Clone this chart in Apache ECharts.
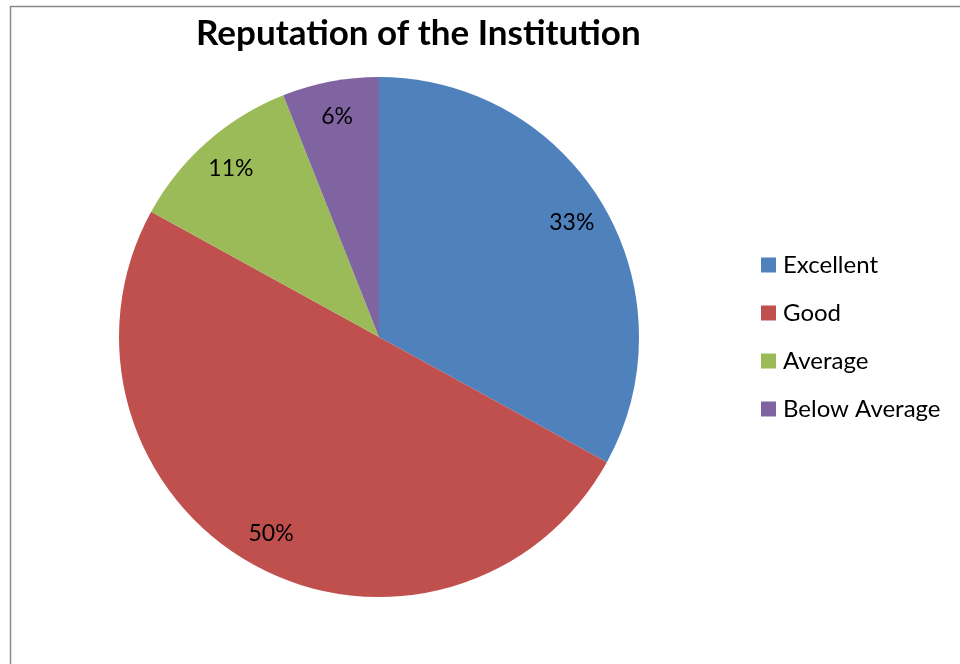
<!DOCTYPE html>
<html>
<head>
<meta charset="utf-8">
<script src="https://cdn.jsdelivr.net/npm/echarts@6/dist/echarts.min.js"></script>
<style>html,body{margin:0;padding:0;background:#fff}#c{width:960px;height:664px}</style>
</head>
<body>
<div id="c"></div>
<script>
const titleText = 'Reputation of the Institution';
const categories = ['Excellent', 'Good', 'Average', 'Below Average'];
const values = [33, 50, 11, 6];
const colors = ['#4F81BD', '#C0504D', '#9BBB59', '#8064A2'];

const font = 'Lato, "Open Sans", sans-serif';
const data = categories.map((n, i) => ({ name: n, value: values[i], itemStyle: { color: colors[i] } }));
const labelData = categories.map((n, i) => ({ name: n, value: values[i] }));

const chart = echarts.init(document.getElementById('c'), null, { renderer: 'canvas' });
chart.setOption({
  backgroundColor: '#ffffff',
  animation: false,
  title: {
    text: titleText,
    left: 196, top: 16,
    padding: 0,
    textStyle: { fontFamily: font, fontWeight: 'bold', fontSize: 35, color: '#000' }
  },
  graphic: [{
    type: 'rect', silent: true, z: -1,
    shape: { x: 10.5, y: 6.5, width: 1200, height: 1200 },
    style: { fill: 'none', stroke: '#898989', lineWidth: 1.5 }
  }],
  legend: {
    orient: 'vertical',
    left: 761, top: 253,
    padding: 0,
    itemWidth: 15, itemHeight: 15,
    itemGap: 24,
    icon: 'rect',
    selectedMode: false,
    data: categories.map((n, i) => ({ name: n, itemStyle: { color: colors[i] } })),
    textStyle: { fontFamily: font, fontSize: 24, lineHeight: 24, color: '#000', padding: [0, 0, 0, 2] }
  },
  series: [
    {
      type: 'pie',
      center: [379, 337],
      radius: 260,
      startAngle: 90,
      clockwise: true,
      avoidLabelOverlap: false,
      silent: true,
      label: { show: false },
      labelLine: { show: false },
      data: data
    },
    {
      type: 'pie',
      center: [379, 337],
      radius: [182, 260],
      startAngle: 90,
      clockwise: true,
      silent: true,
      avoidLabelOverlap: false,
      itemStyle: { color: 'rgba(0,0,0,0)' },
      label: {
        show: true, position: 'inside',
        formatter: '{c}%',
        fontFamily: font, fontSize: 23, color: '#000'
      },
      labelLine: { show: false },
      data: labelData
    }
  ]
});
</script>
</body>
</html>
